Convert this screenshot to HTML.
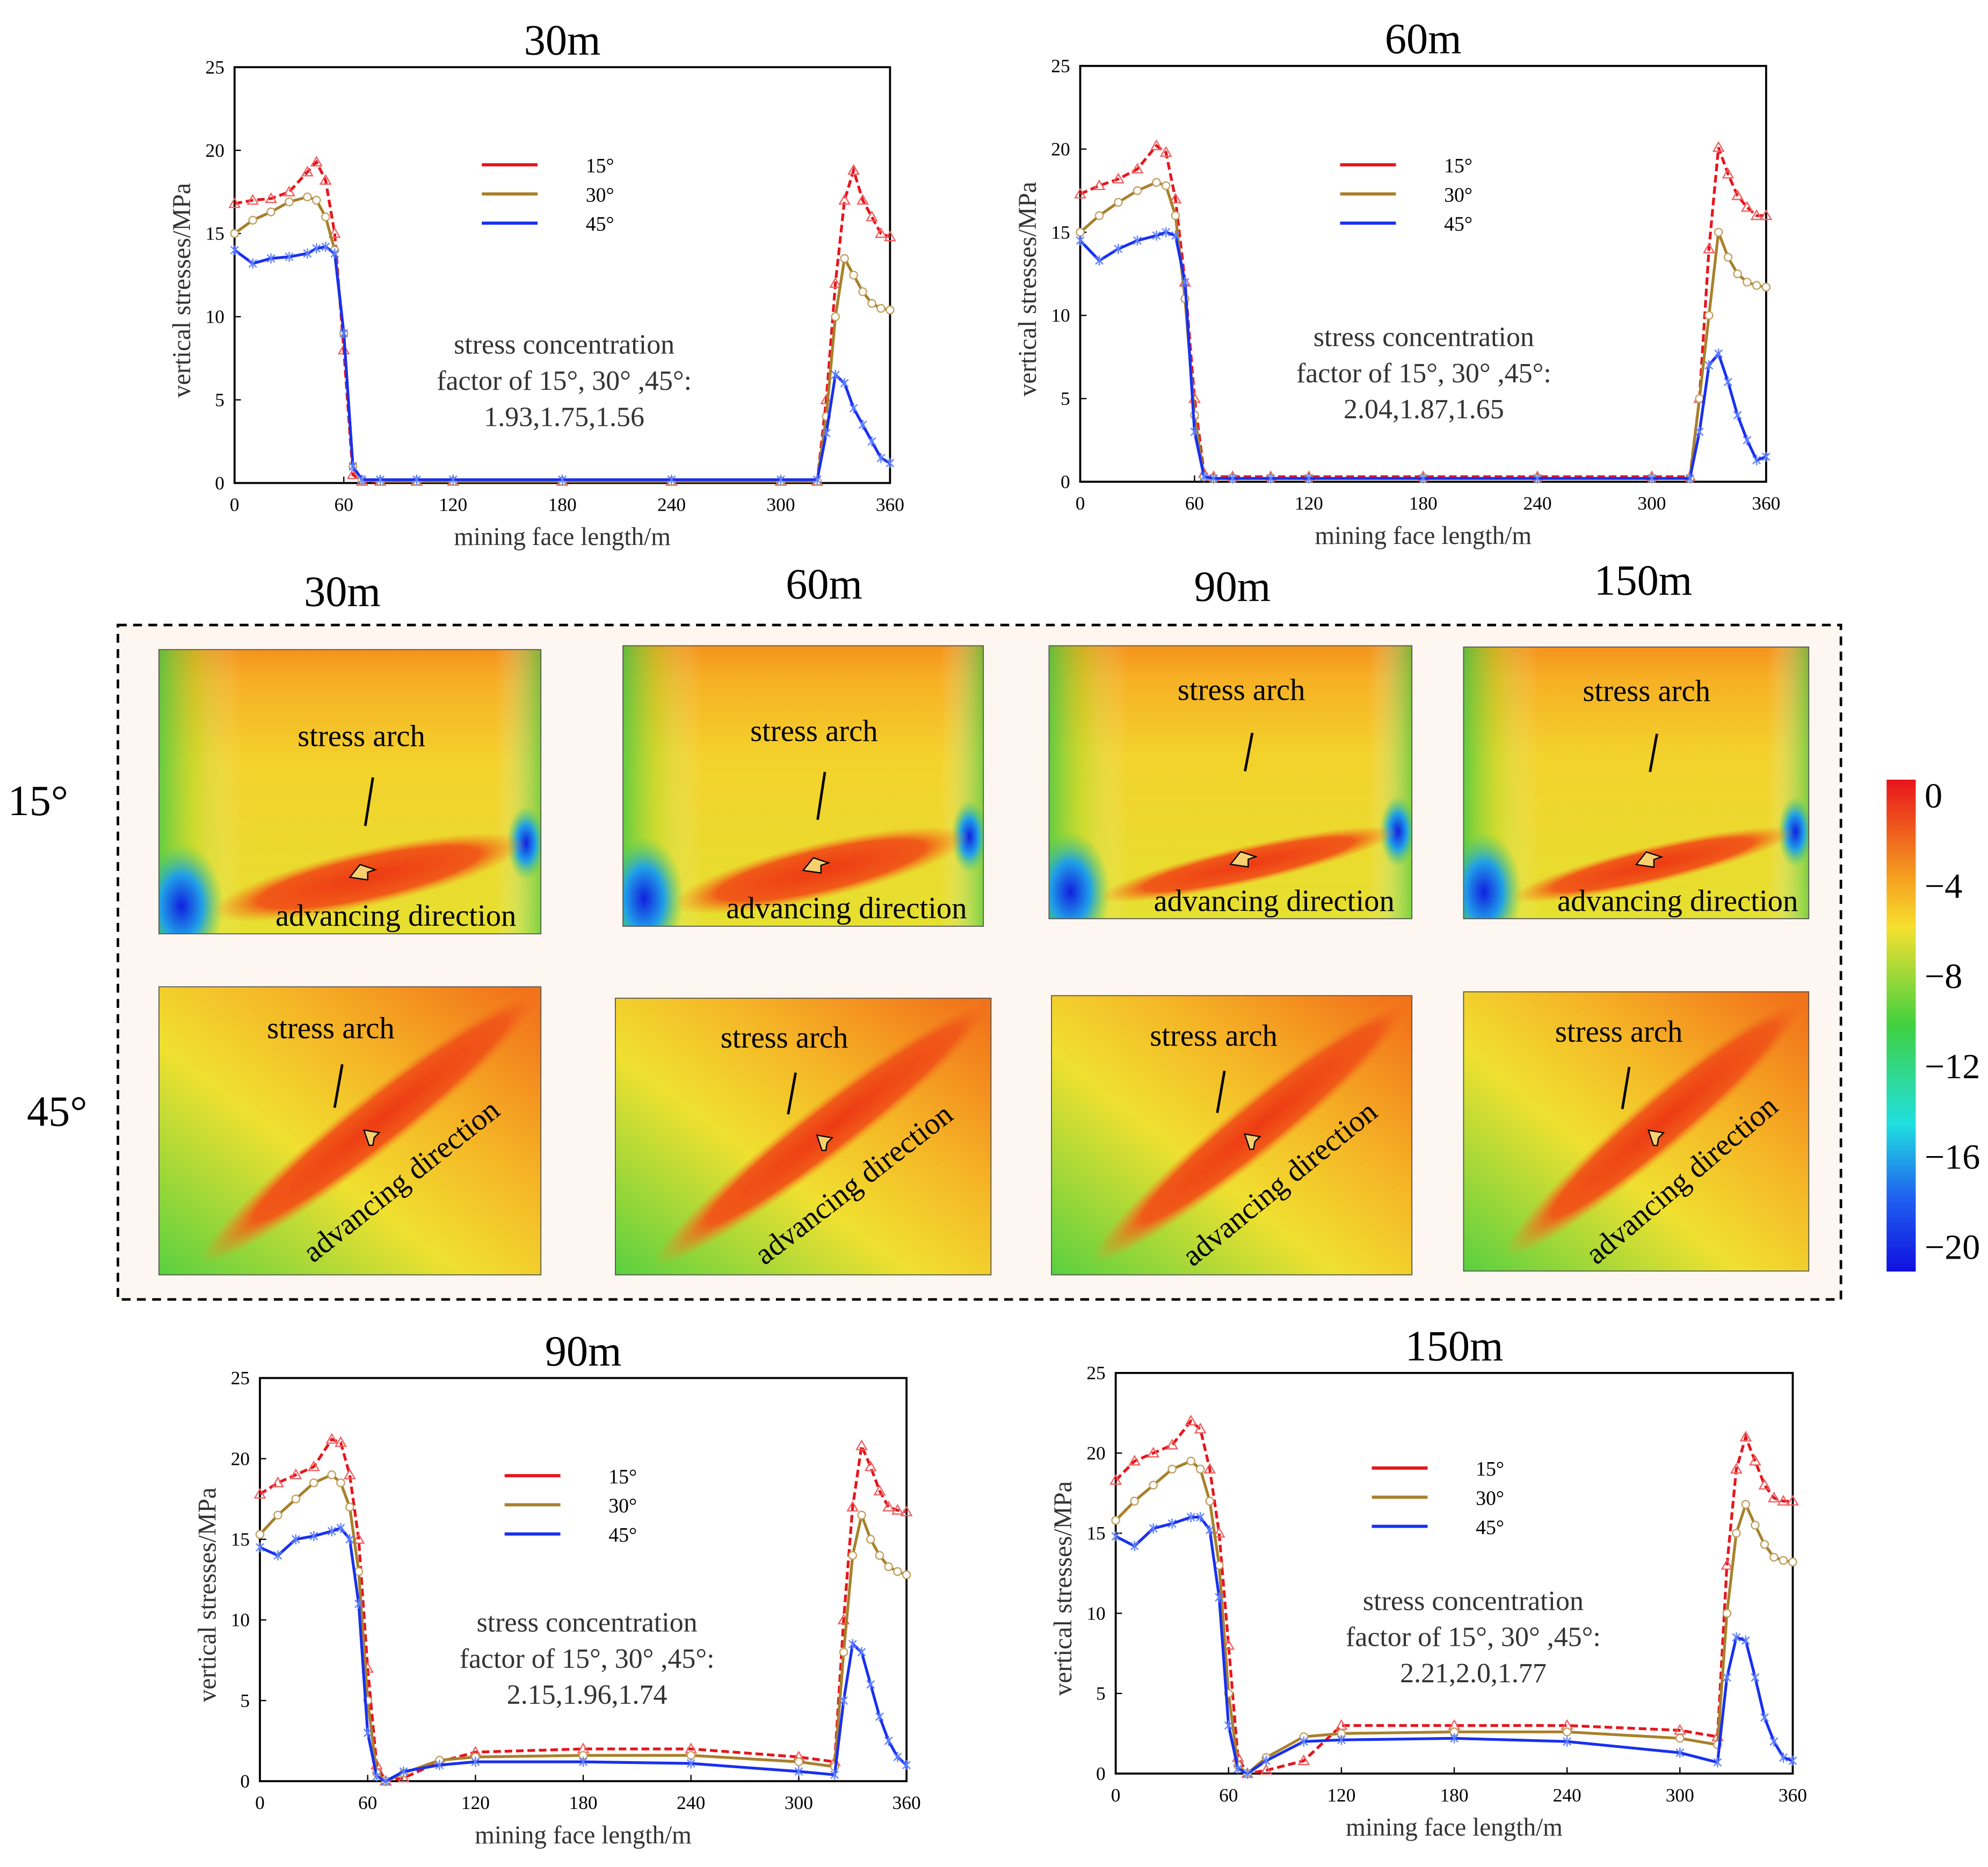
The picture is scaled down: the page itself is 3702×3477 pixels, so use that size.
<!DOCTYPE html>
<html><head><meta charset="utf-8"><style>
html,body{margin:0;padding:0;background:#fff}
svg{display:block;font-family:"Liberation Serif",serif}
</style></head><body>
<svg id="fig" width="3702" height="3477" viewBox="0 0 1568 1472.7" xmlns="http://www.w3.org/2000/svg">
<defs>
<linearGradient id="g1" x1="0" y1="0" x2="0" y2="1"><stop offset="0" stop-color="#f4921c"/><stop offset="0.12" stop-color="#f6b024"/><stop offset="0.4" stop-color="#f3d22c"/><stop offset="1" stop-color="#e6e030"/></linearGradient>
<linearGradient id="g1side" x1="0" y1="0" x2="1" y2="0"><stop offset="0" stop-color="#30c848" stop-opacity="0.75"/><stop offset="0.1" stop-color="#9ae030" stop-opacity="0.35"/><stop offset="0.22" stop-color="#fff" stop-opacity="0"/><stop offset="0.88" stop-color="#fff" stop-opacity="0"/><stop offset="1" stop-color="#30c848" stop-opacity="0.6"/></linearGradient>
<radialGradient id="blue" cx="0.5" cy="0.5" r="0.5"><stop offset="0" stop-color="#1020e0"/><stop offset="0.5" stop-color="#20a0e8"/><stop offset="1" stop-color="#40d060" stop-opacity="0"/></radialGradient>
<radialGradient id="red" cx="0.5" cy="0.5" r="0.5"><stop offset="0" stop-color="#ee3a14"/><stop offset="0.7" stop-color="#f05a18"/><stop offset="1" stop-color="#f39020" stop-opacity="0"/></radialGradient>
<linearGradient id="g2" x1="1" y1="0" x2="0" y2="1"><stop offset="0" stop-color="#f26a18"/><stop offset="0.35" stop-color="#f5b526"/><stop offset="0.6" stop-color="#f0e030"/><stop offset="1" stop-color="#58d040"/></linearGradient>
</defs>
<g id="charts"></g>
<g id="mid">
<rect x="93" y="493" width="1359" height="532" fill="#fdf6f1" stroke="#000" stroke-width="2" stroke-dasharray="7,5"/>
</g>
</svg>
<script>
const NS='http://www.w3.org/2000/svg';
const svg=document.getElementById('fig');
const defs=svg.querySelector('defs');
function el(t,a,p){const e=document.createElementNS(NS,t);for(const k in a)e.setAttribute(k,a[k]);(p||svg).appendChild(e);return e;}
function txt(s,a,p){const e=el('text',a,p);e.textContent=s;return e;}

// ---- data ----
const xPos=[0,10,20,30,40,45,50,55,60,65,70,80,100,120,180,240,300,320,325,330,335,340,345,350,355,360];
const seriesNames=['15°','30°','45°'];
const xTicks=[0,60,120,180,240,300,360];
const yTicks=[0,5,10,15,20,25];
const c30_15=[16.8,17,17.1,17.5,18.7,19.3,18.2,15,8,0.5,0.1,0.1,0.1,0.1,0.1,0.1,0.1,0.1,5,12,17,18.8,17,16,15,14.8];
const c30_30=[15,15.8,16.3,16.9,17.2,17,16,14,9,1,0.2,0.1,0.1,0.1,0.1,0.1,0.1,0.1,4,10,13.5,12.5,11.5,10.8,10.5,10.4];
const c30_45=[14,13.2,13.5,13.6,13.8,14.1,14.2,13.8,9,1,0.2,0.2,0.2,0.2,0.2,0.2,0.2,0.2,3,6.5,6,4.5,3.5,2.5,1.5,1.2];
const c60_15=[17.3,17.8,18.2,18.8,20.2,19.8,17,12,5,0.5,0.3,0.3,0.3,0.3,0.3,0.3,0.3,0.3,5,14,20.1,18.5,17.2,16.5,16,16];
const c60_30=[15,16,16.8,17.5,18,17.8,16,11,4,0.3,0.2,0.2,0.2,0.2,0.2,0.2,0.2,0.2,5,10,15,13.5,12.5,12,11.8,11.7];
const c60_45=[14.5,13.3,14,14.5,14.8,15,14.8,12,3,0.3,0.2,0.2,0.2,0.2,0.2,0.2,0.2,0.2,3,7,7.7,6,4,2.5,1.3,1.5];
const c90_15=[17.8,18.5,19,19.5,21.2,21,19,15,7,1,0,0.2,1.2,1.8,2,2,1.5,1.2,10,17,20.8,19.5,18,17,16.8,16.7];
const c90_30=[15.3,16.5,17.5,18.5,19,18.5,17,13,5,0.5,0,0.5,1.3,1.5,1.6,1.6,1.2,0.9,8,14,16.5,15,14,13.3,13,12.8];
const c90_45=[14.5,14,15,15.2,15.5,15.7,15,11,3,0.3,0,0.6,1,1.2,1.2,1.1,0.6,0.4,5,8.5,8,6,4,2.5,1.5,1];
const c150_15=[18.3,19.5,20,20.5,22,21.5,19,15,8,1,0,0.2,0.8,3,3,3,2.7,2.3,13,19,21,19.5,18,17.2,17,17];
const c150_30=[15.8,17,18,19,19.5,19,17,13,5,0.5,0,1,2.3,2.5,2.6,2.6,2.2,1.8,10,15,16.8,15.5,14.3,13.5,13.3,13.2];
const c150_45=[14.8,14.2,15.3,15.6,16,16,15.2,11,3,0.3,0,0.8,2,2.1,2.2,2,1.3,0.7,6,8.5,8.3,6,3.5,2,1,0.8];
const cbTicks=[0,-4,-8,-12,-16,-20];

const colors=['#e8141c','#a8802c','#1830f0'];
const charts=[
 {name:'30m',box:[185,53,702,381],s:[c30_15,c30_30,c30_45],leg:[380,130],note:[445,279],vals:'1.93,1.75,1.56'},
 {name:'60m',box:[852,52,1393,380],s:[c60_15,c60_30,c60_45],leg:[1057,130],note:[1123,273],vals:'2.04,1.87,1.65'},
 {name:'90m',box:[205,1087,715,1405],s:[c90_15,c90_30,c90_45],leg:[398,1164],note:[463,1287],vals:'2.15,1.96,1.74'},
 {name:'150m',box:[880,1083,1414,1399],s:[c150_15,c150_30,c150_45],leg:[1082,1158],note:[1162,1270],vals:'2.21,2.0,1.77'}
];
const root=document.getElementById('charts');
charts.forEach((c,ci)=>{
 const [x0,y0,x1,y1]=c.box;
 const g=el('g',{},root);
 
 
 const X=v=>x0+(x1-x0)*v/360, Y=v=>y1-(y1-y0)*v/25;
 const t=txt(c.name,{x:(x0+x1)/2,y:y0-10,'font-size':34,'text-anchor':'middle'},g);
 
 
 const fr=el('rect',{x:x0,y:y0,width:x1-x0,height:y1-y0,fill:'none',stroke:'#000','stroke-width':1.6},g);
 
 
 xTicks.forEach(v=>{el('line',{x1:X(v),x2:X(v),y1:y1,y2:y1-5,stroke:'#000'},g);
  const l=txt(String(v),{x:X(v),y:y1+22,'font-size':15,'text-anchor':'middle'},g);
  
  });
 yTicks.forEach(v=>{el('line',{x1:x0,x2:x0+5,y1:Y(v),y2:Y(v),stroke:'#000'},g);
  const l=txt(String(v),{x:x0-8,y:Y(v)+5,'font-size':15,'text-anchor':'end'},g);
  
  });
 const xl=txt('mining face length/m',{x:(x0+x1)/2,y:y1+49,'font-size':20,'text-anchor':'middle',fill:'#333'},g);
 
 
 const yl=txt('vertical stresses/MPa',{x:0,y:0,'font-size':20,'text-anchor':'middle',fill:'#333',transform:`translate(${x0-35},${(y0+y1)/2+12}) rotate(-90)`},g);
 
 
 c.s.forEach((arr,si)=>{
  const pts=arr.map((v,i)=>X(xPos[i])+','+Y(v)).join(' ');
  const pl=el('polyline',{points:pts,fill:'none',stroke:colors[si],'stroke-width':2.2,'stroke-dasharray':si==0?'6,3':'none'},g);
  
  
  arr.forEach((v,i)=>{const px=X(xPos[i]),py=Y(v);let m;
   if(si==0)m=el('polygon',{points:`${px},${py-4} ${px-4},${py+3} ${px+4},${py+3}`,fill:'none',stroke:'#f06060'},g);
   else if(si==1)m=el('circle',{cx:px,cy:py,r:3,fill:'#fff',stroke:'#c0a060'},g);
   else m=el('path',{d:`M${px-3},${py-3}L${px+3},${py+3}M${px+3},${py-3}L${px-3},${py+3}M${px},${py-4}V${py+4}`,stroke:'#6080ff'},g);
   
   });
 });
 const [lx,ly]=c.leg;
 seriesNames.forEach((n,i)=>{
  const ln=el('line',{x1:lx,x2:lx+44,y1:ly+i*23,y2:ly+i*23,stroke:colors[i],'stroke-width':2.5},g);
  
  
  const lt=txt(n,{x:lx+82,y:ly+i*23+6,'font-size':16},g);
  
  });
 const [nx,ny]=c.note;
 ['stress concentration','factor of 15°, 30° ,45°:',c.vals].forEach((s,i)=>{
  const a=txt(s,{x:nx,y:ny+i*28.5,'font-size':22,'text-anchor':'middle',fill:'#333'},g);
  
  });
});

// ---- contour panels ----
const mid=document.getElementById('mid');
const panels1=[[125,512,427,737],[491,509,776,731],[827,509,1114,725],[1154,510,1427,725]];
const panels2=[[125,778,427,1006],[485,787,782,1006],[829,785,1114,1006],[1154,782,1427,1003]];
const titles=[['30m',270,478],['60m',650,472],['90m',972,474],['150m',1296,469]];
titles.forEach(t=>{const e=txt(t[0],{x:t[1],y:t[2],'font-size':34,'text-anchor':'middle'});
 
 });
[['15°',30,643],['45°',45,888]].forEach(t=>{const e=txt(t[0],{x:t[1],y:t[2],'font-size':34,'text-anchor':'middle'});
 
 });
let clipN=0;
function clipFor(a,b,w,h){const id='cp'+(clipN++);const cp=el('clipPath',{id:id},defs);el('rect',{x:a,y:b,width:w,height:h},cp);return 'url(#'+id+')';}
panels1.forEach(([a,b,c,d],i)=>{
 const w=c-a,h=d-b;
 const g=el('g',{'clip-path':clipFor(a,b,w,h)},mid);
 el('rect',{x:a,y:b,width:w,height:h,fill:'url(#g1)'},g);
 el('rect',{x:a,y:b,width:w,height:h,fill:'url(#g1side)'},g);
 el('ellipse',{cx:a+w*0.06,cy:b+h*0.9,rx:w*0.11,ry:h*0.22,fill:'url(#blue)'},g);
 el('ellipse',{cx:a+w*0.96,cy:b+h*0.68,rx:w*0.05,ry:h*0.13,fill:'url(#blue)'},g);
 const ang=-Math.atan2(h*0.22,w*0.74)*180/Math.PI;
 el('ellipse',{cx:a+w*0.55,cy:b+h*0.8,rx:w*0.42,ry:h*(i<2?0.1:0.07),fill:'url(#red)',transform:`rotate(${ang} ${a+w*0.55} ${b+h*0.8})`},g);
 el('rect',{x:a,y:b,width:w,height:h,fill:'none',stroke:'#555','stroke-width':1.5},g);
 const s=txt('stress arch',{x:a+w*0.53,y:b+h*(i<2?0.34:0.2),'font-size':24,'text-anchor':'middle'},g);
 el('path',{d:`M${a+w*0.54},${b+h*(i<2?0.62:0.46)}L${a+w*0.56},${b+h*(i<2?0.45:0.32)}`,stroke:'#000','stroke-width':2},g);
 const ad=txt('advancing direction',{x:a+w*0.62,y:b+h*0.97,'font-size':24,'text-anchor':'middle'},g);
 el('path',{d:`M${a+w*0.5},${b+h*0.8}l8,-10l12,4l-6,2l0,6z`,fill:'#f8d070',stroke:'#000'},g);
});
panels2.forEach(([a,b,c,d],i)=>{
 const w=c-a,h=d-b;
 const g=el('g',{'clip-path':clipFor(a,b,w,h)},mid);
 el('rect',{x:a,y:b,width:w,height:h,fill:'url(#g2)'},g);
 const cx=a+w*0.58,cy=b+h*0.46,ang=-Math.atan2(h*0.8,w*0.76)*180/Math.PI;
 el('ellipse',{cx:cx,cy:cy,rx:w*0.6,ry:h*0.1,fill:'url(#red)',transform:`rotate(${ang} ${cx} ${cy})`},g);
 el('rect',{x:a,y:b,width:w,height:h,fill:'none',stroke:'#555','stroke-width':1.5},g);
 const s=txt('stress arch',{x:a+w*0.45,y:b+h*0.18,'font-size':24,'text-anchor':'middle'},g);
 el('path',{d:`M${a+w*0.46},${b+h*0.42}L${a+w*0.48},${b+h*0.27}`,stroke:'#000','stroke-width':2},g);
 const ad=txt('advancing direction',{x:0,y:0,'font-size':24,'text-anchor':'middle',transform:`translate(${a+w*0.65},${b+h*0.7}) rotate(${ang})`},g);
 el('path',{d:`M${a+w*0.55},${b+h*0.55}l-4,-12l12,2l-4,4l-1,6z`,fill:'#f8d070',stroke:'#000'},g);
});
// colorbar
const cb=el('g',{},mid);
const lg=el('linearGradient',{id:'cbg',x1:0,y1:0,x2:0,y2:1},defs);
[['0','#e8141c'],['0.2','#f5a020'],['0.3','#f7e030'],['0.5','#40d040'],['0.7','#20e0e0'],['0.85','#2060f0'],['1','#1010e0']].forEach(s=>el('stop',{offset:s[0],'stop-color':s[1]},lg));
el('rect',{x:1488,y:615,width:23,height:388,fill:'url(#cbg)'},cb);
const cbY=v=>627+(983-627)*(v/-20);
cbTicks.forEach(v=>{const t=txt(v===0?'0':'−'+(-v),{x:1518,y:cbY(v)+10,'font-size':28},cb);
 
 });
</script>
</body></html>
